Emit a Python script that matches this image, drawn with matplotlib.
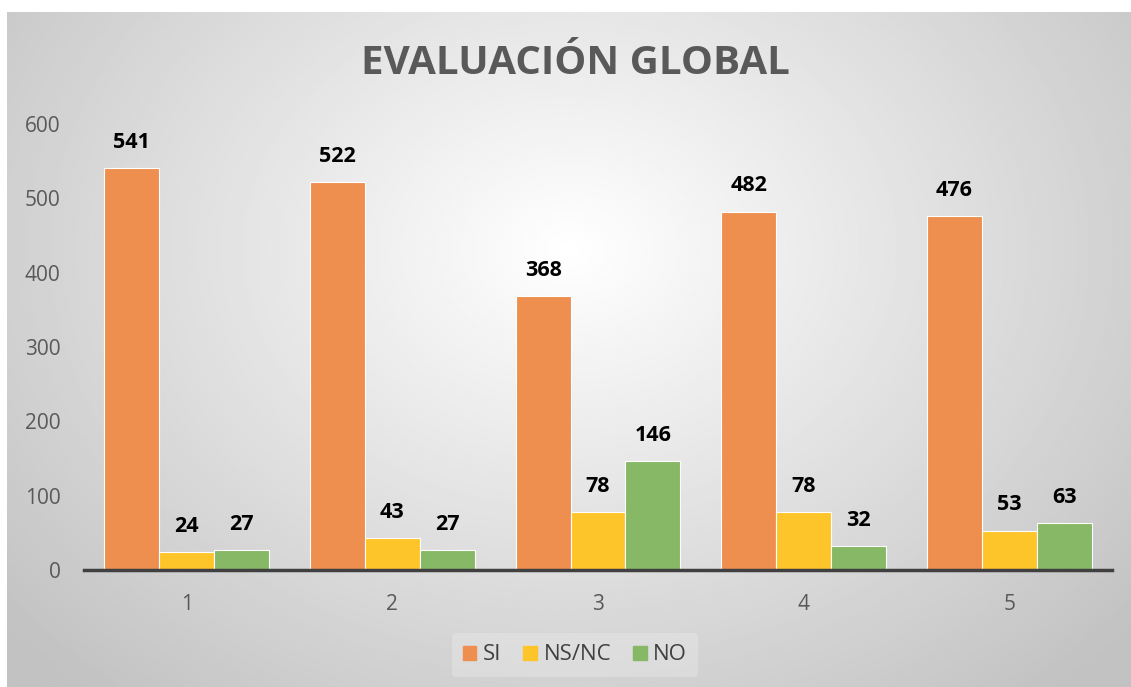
#!/usr/bin/env python3

import numpy as np
import matplotlib
matplotlib.use('Agg')
import matplotlib.pyplot as plt
import matplotlib.patches as mpatches

plt.rcParams['font.family'] = ['Open Sans', 'DejaVu Sans']

groups = ['1', '2', '3', '4', '5']
series_names = ['SI', 'NS/NC', 'NO']
si = [541, 522, 368, 482, 476]
nsnc = [24, 43, 78, 78, 53]
no = [27, 27, 146, 32, 63]
yticks = [0, 100, 200, 300, 400, 500, 600]

colors = ['#EE8F50', '#FEC52A', '#87B865']

W, H = 1131, 687
fig = plt.figure(figsize=(W / 100, H / 100), dpi=100)

# radial gradient panel behind everything
bg = fig.add_axes([7 / W, 0, 1 - 7 / W, 1 - 12 / H], zorder=0)
yy, xx = np.mgrid[0:300, 0:500]
cx, cy = 250, 105
r = np.sqrt(((xx - cx) / 330.0) ** 2 + ((yy - cy) / 260.0) ** 2)
shade = np.clip(1.0 - 0.24 * r, 0.76, 1.0)
bg.imshow(shade, cmap='gray', vmin=0, vmax=1, aspect='auto',
          extent=[0, 1, 0, 1], origin='upper', interpolation='bilinear')
bg.set_axis_off()

ax = fig.add_axes([84 / W, 1 - 570 / H, (1112 - 84) / W, (570 - 124) / H], zorder=1)
ax.patch.set_alpha(0)

x = np.arange(1, len(groups) + 1)
w = 0.267
for k, (vals, c) in enumerate(zip([si, nsnc, no], colors)):
    pos = x + (k - 1) * w
    ax.bar(pos, vals, width=w, color=c, edgecolor='white', linewidth=0.8,
           label=series_names[k], zorder=2)
    for px, v in zip(pos, vals):
        ax.annotate(str(v), (px, v), xytext=(0, 11), textcoords='offset points',
                    ha='center', va='bottom', fontsize=15.5, fontweight='bold',
                    color='black')

ax.set_xlim(0.5, 5.5)
ax.set_ylim(0, 600)
ax.set_xticks(x)
ax.set_xticklabels(groups)
ax.set_yticks(yticks)
for s in ['top', 'right', 'left']:
    ax.spines[s].set_visible(False)
ax.spines['bottom'].set_color('#404040')
ax.spines['bottom'].set_linewidth(2.5)
ax.spines['bottom'].set_zorder(3)
ax.tick_params(axis='both', length=0, labelsize=15, colors='#595959')
ax.tick_params(axis='x', pad=17)
ax.tick_params(axis='y', pad=17)

fig.text(575 / W, 1 - 63 / H, 'EVALUACIÓN GLOBAL', ha='center', va='center',
         fontsize=29, fontweight='bold', color='#595959')

handles = [mpatches.Patch(color=c, label=n) for c, n in zip(colors, series_names)]
leg = fig.legend(handles=handles, loc='center', bbox_to_anchor=(575 / W, 1 - 655 / H),
                 ncol=3, frameon=True, fontsize=16, handlelength=0.6, handleheight=0.6,
                 handletextpad=0.3, columnspacing=1.0, borderpad=0.5)
leg.get_frame().set_facecolor('#ebebeb')
leg.get_frame().set_edgecolor('none')
leg.get_frame().set_alpha(0.4)
for t in leg.get_texts():
    t.set_color('#404040')

plt.savefig('out.png', dpi=100)
